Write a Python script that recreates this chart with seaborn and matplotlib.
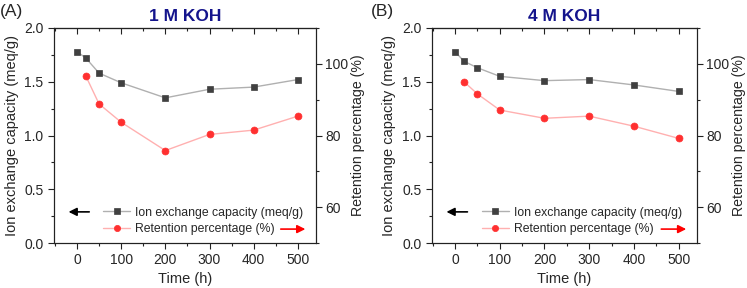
import numpy as np
import matplotlib.pyplot as plt
import seaborn as sns
from matplotlib.lines import Line2D
from matplotlib.ticker import MultipleLocator

sns.set_style('ticks')
plt.rcParams['font.family'] = ['Liberation Sans', 'DejaVu Sans']

# data
time_iec = [0, 20, 50, 100, 200, 300, 400, 500]
time_ret = [20, 50, 100, 200, 300, 400, 500]
iec_1m = [1.78, 1.72, 1.58, 1.49, 1.35, 1.43, 1.45, 1.52]
ret_1m = [96.6, 88.8, 83.7, 75.8, 80.3, 81.5, 85.4]
iec_4m = [1.78, 1.69, 1.63, 1.55, 1.51, 1.52, 1.47, 1.41]
ret_4m = [95.0, 91.6, 87.1, 84.8, 85.4, 82.6, 79.2]
panels = ['(A)', '(B)']
titles = ['1 M KOH', '4 M KOH']

fig = plt.figure(figsize=(7.47, 2.88), dpi=100)
boxes = [[0.0723, 0.156, 0.3507, 0.747], [0.578, 0.156, 0.355, 0.747]]
panel_x = [0.0, 0.497]

line_gray = '#b0b0b0'
mark_gray = '#404040'
line_red = '#ffb0b0'
mark_red = '#ff3030'
spine_c = '#222222'

for i, (iec, ret) in enumerate([(iec_1m, ret_1m), (iec_4m, ret_4m)]):
    ax = fig.add_axes(boxes[i])
    ax2 = ax.twinx()
    sns.lineplot(x=time_iec, y=iec, ax=ax, color=line_gray, lw=1, marker='s', ms=4.3,
                 markerfacecolor=mark_gray, markeredgecolor=mark_gray, mew=0.5)
    sns.lineplot(x=time_ret, y=ret, ax=ax2, color=line_red, lw=1, marker='o', ms=5,
                 markerfacecolor=mark_red, markeredgecolor=mark_red, mew=0.5)
    ax.set_xlim(-52, 541)
    ax.set_ylim(0, 2.0)
    ax2.set_ylim(50, 110)
    ax.xaxis.set_major_locator(MultipleLocator(100))
    ax.xaxis.set_minor_locator(MultipleLocator(50))
    ax.yaxis.set_minor_locator(MultipleLocator(0.25))
    ax2.yaxis.set_major_locator(MultipleLocator(20))
    ax2.yaxis.set_minor_locator(MultipleLocator(10))
    ax.set_yticks(np.arange(0, 2.01, 0.5))
    ax.set_yticklabels(['0.0', '0.5', '1.0', '1.5', '2.0'])
    ax.tick_params(axis='both', which='major', labelsize=10, length=4, width=0.8, color=spine_c)
    ax.tick_params(axis='both', which='minor', length=2.5, width=0.8, color=spine_c)
    ax2.tick_params(axis='y', which='major', labelsize=10, length=4, width=0.8, color=spine_c, pad=2.5)
    ax2.tick_params(axis='y', which='minor', length=2.5, width=0.8, color=spine_c)
    for a in (ax, ax2):
        for s in a.spines.values():
            s.set_linewidth(0.8)
            s.set_color(spine_c)
    # top ticks pointing inward, no labels
    top = ax.secondary_xaxis('top')
    top.xaxis.set_major_locator(MultipleLocator(100))
    top.xaxis.set_minor_locator(MultipleLocator(50))
    top.tick_params(which='major', direction='in', length=4, width=0.8, color=spine_c, labeltop=False)
    top.tick_params(which='minor', direction='in', length=2.5, width=0.8, color=spine_c)
    top.spines['top'].set_linewidth(0.8)
    top.spines['top'].set_color(spine_c)

    ax.set_xlabel('Time (h)', fontsize=10.5, labelpad=3)
    ax.set_ylabel('Ion exchange capacity (meq/g)', fontsize=10.5, labelpad=4)
    ax2.set_ylabel('Retention percentage (%)', fontsize=10.2, labelpad=2)
    ax.set_title(titles[i], fontsize=12.5, fontweight='bold', color='#14148c', pad=5)
    fig.text(panel_x[i], 0.985, panels[i], fontsize=12.5, va='top', ha='left')

    handles = [
        Line2D([], [], color=line_gray, lw=1, marker='s', ms=4,
               markerfacecolor=mark_gray, markeredgecolor=mark_gray, mew=0.5),
        Line2D([], [], color=line_red, lw=1, marker='o', ms=4.5,
               markerfacecolor=mark_red, markeredgecolor=mark_red, mew=0.5),
    ]
    ax2.legend(handles, ['Ion exchange capacity (meq/g)', 'Retention percentage (%)'],
               loc='lower left', bbox_to_anchor=(0.17, 0.015), frameon=False, fontsize=8.8,
               handlelength=2.2, handletextpad=0.4, labelspacing=0.35, borderaxespad=0)
    ax2.annotate('', xy=(0.045, 0.145), xytext=(0.145, 0.145), xycoords='axes fraction',
                 arrowprops=dict(arrowstyle='-|>', color='black', lw=1.2, mutation_scale=12))
    ax2.annotate('', xy=(0.97, 0.065), xytext=(0.855, 0.065), xycoords='axes fraction',
                 arrowprops=dict(arrowstyle='-|>', color='red', lw=1.2, mutation_scale=12))

fig.savefig('out.png', dpi=100)
